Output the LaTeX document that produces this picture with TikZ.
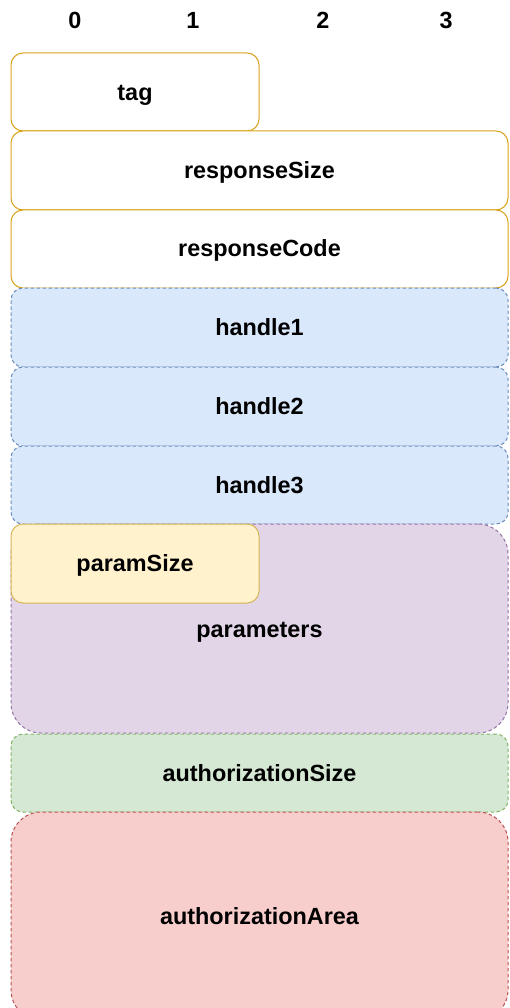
\documentclass[tikz,border=0pt]{standalone}
\usepackage{fontspec}
\setmainfont{Liberation Sans}
\definecolor{tagline}{HTML}{D9A21B}
\definecolor{bluefill}{HTML}{DAE8FC}
\definecolor{blueline}{HTML}{6C8EBF}
\definecolor{purplefill}{HTML}{E1D5E7}
\definecolor{purpleline}{HTML}{9673A6}
\definecolor{greenfill}{HTML}{D5E8D4}
\definecolor{greenline}{HTML}{82B366}
\definecolor{redfill}{HTML}{F8CECC}
\definecolor{redline}{HTML}{B85450}
\definecolor{yellowfill}{HTML}{FFF2CC}
\definecolor{yellowline}{HTML}{D6B656}
\tikzset{
  field/.style={rectangle, anchor=north west, inner sep=0pt, outer sep=0pt,
    line width=1pt, rounded corners=12pt, font=\fontsize{23.4}{27}\selectfont\bfseries},
  plain/.style={field, draw=tagline, fill=white},
  dashedfield/.style={field, dash pattern=on 3.5pt off 2.5pt},
  handlebox/.style={dashedfield, draw=blueline, fill=bluefill},
  colnum/.style={font=\fontsize{23.4}{27}\selectfont\bfseries, inner sep=0pt}
}
% shift a label down without changing its reported size
\newcommand{\lowered}[2][2pt]{\raisebox{-#1}[\height][\depth]{#2}}
\begin{document}
\begin{tikzpicture}[x=1pt,y=-1pt]
\useasboundingbox (0,0) rectangle (509,1008);
% column numbers
\node[colnum] (c0) at (75,20) {0};
\node[colnum] (c1) at (193,20) {1};
\node[colnum] (c2) at (323,20) {2};
\node[colnum] (c3) at (446,20) {3};
% header fields
\node[plain, minimum width=248pt, minimum height=78pt] (tag) at (11,53) {\lowered[3pt]{tag}};
\node[plain, minimum width=497pt, minimum height=79pt] (rsize) at (11,131) {\lowered{responseSize}};
\node[plain, minimum width=497pt, minimum height=78pt] (rcode) at (11,210) {\lowered[1pt]{responseCode}};
% handles
\node[handlebox, minimum width=497pt, minimum height=79pt] (h1) at (11,288) {handle1};
\node[handlebox, minimum width=497pt, minimum height=79pt] (h2) at (11,367) {handle2};
\node[handlebox, minimum width=497pt, minimum height=78pt] (h3) at (11,446) {handle3};
% parameter area
\node[dashedfield, draw=purpleline, fill=purplefill,
  rounded corners=30pt, minimum width=497pt, minimum height=209pt] (params) at (11,524) {\lowered[4pt]{parameters}};
\node[field, draw=yellowline, fill=yellowfill, minimum width=248pt, minimum height=79pt] (psize) at (11,524) {\lowered[2pt]{paramSize}};
% authorization
\node[dashedfield, draw=greenline, fill=greenfill,
  minimum width=497pt, minimum height=78pt] (asize) at (11,734) {authorizationSize};
\node[dashedfield, draw=redline, fill=redfill,
  rounded corners=30pt, minimum width=497pt, minimum height=208pt] (aarea) at (11,812) {authorizationArea};
\end{tikzpicture}
\end{document}
